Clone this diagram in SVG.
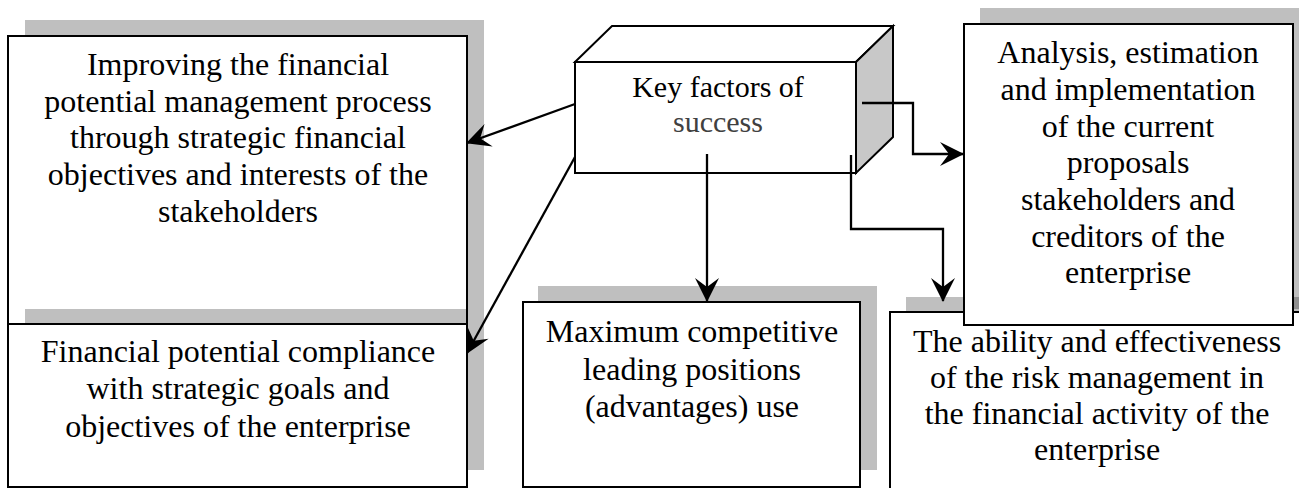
<svg xmlns="http://www.w3.org/2000/svg" width="1299" height="488" viewBox="0 0 1299 488">
<style>
.sh{fill:#000;fill-opacity:0.25}
.bx{fill:#fff;stroke:#000;stroke-width:2}
.t{font-size:32px;fill:#000;text-anchor:middle}
.k{font-size:30px;text-anchor:middle}
.c{fill:none;stroke:#000;stroke-width:2.3}
</style>
<defs>
<marker id="ah" markerUnits="userSpaceOnUse" markerWidth="26" markerHeight="26" refX="24" refY="13" orient="auto" viewBox="0 0 26 26">
<path d="M25,13 L1,1 L10,13 L1,25 Z" fill="#000"/>
</marker>
</defs>
<rect width="1299" height="488" fill="#fff"/>
<g font-family="Liberation Serif, Tinos, Times New Roman, DejaVu Serif, serif">
<g id="n1">
<rect class="sh" x="25" y="20" width="459" height="289"/>
<rect class="bx" x="8" y="36" width="459" height="289"/>
<text class="t"><tspan x="238" y="75">Improving the financial</tspan><tspan x="238" y="112">potential management process</tspan><tspan x="238" y="148">through strategic financial</tspan><tspan x="238" y="185">objectives and interests of the</tspan><tspan x="238" y="222">stakeholders</tspan></text>
</g>
<g id="n2">
<rect class="sh" x="25" y="309" width="459" height="161"/>
<rect class="bx" x="8" y="324" width="459" height="163"/>
<text class="t"><tspan x="238" y="362">Financial potential compliance</tspan><tspan x="238" y="399">with strategic goals and</tspan><tspan x="238" y="437">objectives of the enterprise</tspan></text>
</g>
<g id="n3">
<rect class="sh" x="538" y="286" width="339" height="184"/>
<rect class="bx" x="523" y="302" width="337" height="185"/>
<text class="t"><tspan x="692" y="342">Maximum competitive</tspan><tspan x="692" y="380">leading positions</tspan><tspan x="692" y="417">(advantages) use</tspan></text>
</g>
<g id="n5">
<rect class="sh" x="906" y="297" width="420" height="200"/>
<rect class="bx" x="890" y="312" width="420" height="190"/>
<text class="t"><tspan x="1097" y="352">The ability and effectiveness</tspan><tspan x="1097" y="388">of the risk management in</tspan><tspan x="1097" y="424">the financial activity of the</tspan><tspan x="1097" y="460">enterprise</tspan></text>
</g>
<g id="n4">
<rect class="sh" x="980" y="8" width="330" height="301"/>
<rect class="bx" x="964" y="24" width="329" height="301"/>
<text class="t"><tspan x="1128" y="63">Analysis, estimation</tspan><tspan x="1128" y="100">and implementation</tspan><tspan x="1128" y="137">of the current</tspan><tspan x="1128" y="173">proposals</tspan><tspan x="1128" y="210">stakeholders and</tspan><tspan x="1128" y="247">creditors of the</tspan><tspan x="1128" y="283">enterprise</tspan></text>
</g>
<g id="center">
<path d="M575,62 L612,26 L893,26 L856,62 Z" fill="#fff" stroke="#000" stroke-width="2"/>
<path d="M856,62 L893,26 L893,137 L856,173 Z" fill="#c8c8c8" stroke="#000" stroke-width="2"/>
<rect class="bx" x="575" y="62" width="281" height="111"/>
<text class="k"><tspan x="718" y="97" fill="#000">Key factors of</tspan><tspan x="718" y="132" fill="#404040">success</tspan></text>
</g>
</g>
<g id="connectors">
<line class="c" x1="575" y1="104" x2="467" y2="143" marker-end="url(#ah)"/>
<line class="c" x1="575" y1="157" x2="467" y2="353" marker-end="url(#ah)"/>
<line class="c" x1="707" y1="154" x2="707" y2="301" marker-end="url(#ah)"/>
<polyline class="c" points="862,103 913,103 913,154 963,154" marker-end="url(#ah)"/>
<polyline class="c" points="851,155 851,229 943,229 943,301" marker-end="url(#ah)"/>
</g>
</svg>
